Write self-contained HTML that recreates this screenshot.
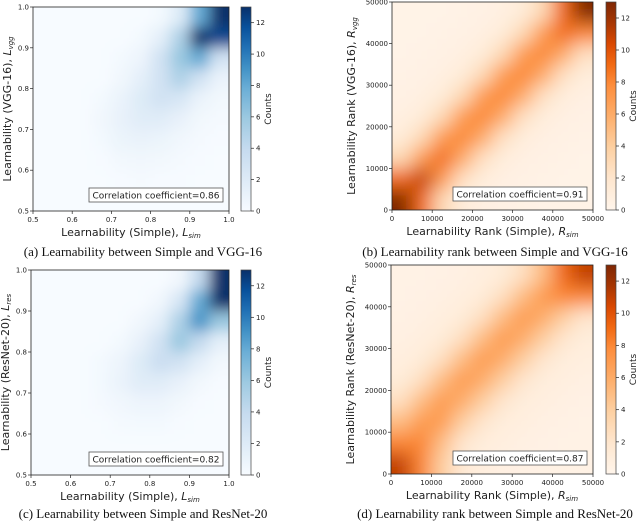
<!DOCTYPE html>
<html><head><meta charset="utf-8"><style>
html,body{margin:0;padding:0;background:#fff;}
svg{display:block;}
.t{font-family:"DejaVu Sans","Liberation Sans",sans-serif;}
.cap{font-family:"Liberation Serif",serif;font-size:13px;}
</style></head><body>
<svg id="fig" width="640" height="524" viewBox="0 0 640 524">
<defs>
<linearGradient id="gBlue" x1="0" y1="1" x2="0" y2="0">
<stop offset="0" stop-color="#f7fbff"/><stop offset="0.15" stop-color="#deebf7"/><stop offset="0.3" stop-color="#c6dbef"/><stop offset="0.45" stop-color="#9ecae1"/><stop offset="0.6" stop-color="#6baed6"/><stop offset="0.7" stop-color="#4292c6"/><stop offset="0.8" stop-color="#2171b5"/><stop offset="0.9" stop-color="#08519c"/><stop offset="1" stop-color="#08306b"/></linearGradient>
<linearGradient id="gOrange" x1="0" y1="1" x2="0" y2="0">
<stop offset="0" stop-color="#fff5eb"/><stop offset="0.15" stop-color="#fee6ce"/><stop offset="0.3" stop-color="#fdd0a2"/><stop offset="0.45" stop-color="#fdae6b"/><stop offset="0.6" stop-color="#fd8d3c"/><stop offset="0.7" stop-color="#f16913"/><stop offset="0.8" stop-color="#d94801"/><stop offset="0.9" stop-color="#a63603"/><stop offset="1" stop-color="#7f2704"/></linearGradient>
<filter id="blurS" x="-5%" y="-5%" width="110%" height="110%"><feGaussianBlur stdDeviation="7"/></filter>
<filter id="blurL" x="-5%" y="-5%" width="110%" height="110%"><feGaussianBlur stdDeviation="9"/></filter>
</defs>
</svg>
<script>
// counts grids, row 0 = top of y axis, col 0 = left of x axis
const gridA = [
[0,0,0,0,0,0,0.3,2,8,13],
[0,0,0,0,0,0.3,1.5,5,13,12],
[0,0,0,0,0.3,0.8,3,6,8,3],
[0,0,0,0,0.5,1.5,3,5,3,1],
[0,0,0,0.3,1,2,3,2.5,1,0.4],
[0,0,0,0.5,1.2,1.8,1.8,1.2,0.4,0.2],
[0,0,0,0.3,0.9,1.1,0.9,0.5,0.2,0.1],
[0,0,0,0.1,0.4,0.5,0.4,0.2,0.1,0],
[0,0,0,0,0.1,0.2,0.1,0.1,0,0],
[0,0,0,0,0,0,0,0,0,0]];
const gridB = [
[.3,.3,.3,.4,.5,.7,1.2,3,9,13],
[.3,.3,.4,.5,.7,1.2,3,7,9,8],
[.3,.4,.5,.7,1.2,3,7,8,6,2.5],
[.4,.5,.7,1.2,3,7,8,6,2.5,1],
[.5,.7,1.2,3,7,8,6,2.5,1,.6],
[.7,1.2,3,7,8,6,2.5,1,.6,.5],
[1.2,3,7,8,6,2.5,1,.6,.5,.4],
[3,7,9,6,2.5,1,.6,.5,.4,.3],
[9,11,7,2.5,1,.6,.5,.4,.3,.3],
[13,9,3,1,.6,.5,.4,.3,.3,.3]];
const gridC = [
[0,0,0,0,0,0,0,0.5,4,13],
[0,0,0,0,0,0,0.5,2.5,8,13],
[0,0,0,0,0,0.5,1.5,5,9,6],
[0,0,0,0,0.3,1.2,3,6,4,1.5],
[0,0,0,0.3,0.8,2,3.5,3,1.5,0.4],
[0,0,0,0.3,1,1.8,1.8,1.2,0.4,0.1],
[0,0,0,0.2,0.5,0.8,0.8,0.4,0.1,0],
[0,0,0,0,0.2,0.3,0.3,0.1,0,0],
[0,0,0,0,0,0,0,0,0,0],
[0,0,0,0,0,0,0,0,0,0]];
const gridD = [
[.4,.4,.5,.6,.8,1.2,2.5,5,9,11],
[.4,.5,.6,.8,1.2,2.5,5,7,8,8],
[.5,.6,.8,1.2,2.5,5,7,6,4,2],
[.6,.8,1.2,2.5,5,7,6,4,2,1],
[.8,1.2,2.5,5,7,6,4,2,1,.8],
[1.2,2.5,5,7,6,4,2,1,.8,.6],
[2.5,5,7,6,4,2,1,.8,.6,.5],
[5,7,7,4,2,1,.8,.6,.5,.4],
[8,8,5,2,1,.8,.6,.5,.4,.4],
[11,8,4,1.5,.8,.6,.5,.4,.4,.4]];
const learnTicks = ["0.5","0.6","0.7","0.8","0.9","1.0"];
const rankTicks = ["0","10000","20000","30000","40000","50000"];
const cbTicks = [0,2,4,6,8,10,12];
const cbMax = 13;
const corrs = ["0.86","0.91","0.82","0.87"];

const NS="http://www.w3.org/2000/svg";
const svg=document.getElementById('fig');
function mk(tag,attrs,parent){const e=document.createElementNS(NS,tag);for(const k in attrs)e.setAttribute(k,attrs[k]);(parent||svg).appendChild(e);return e;}
const blues=["#f7fbff","#deebf7","#c6dbef","#9ecae1","#6baed6","#4292c6","#2171b5","#08519c","#08306b"];
const oranges=["#fff5eb","#fee6ce","#fdd0a2","#fdae6b","#fd8d3c","#f16913","#d94801","#a63603","#7f2704"];
const stops=[0,0.15,0.3,0.45,0.6,0.7,0.8,0.9,1];
function hex(c){return [1,3,5].map(i=>parseInt(c.substr(i,2),16));}
function cmap(pal,v){let t=Math.max(0,Math.min(1,v/cbMax));for(let i=1;i<stops.length;i++){if(t<=stops[i]){const f=(t-stops[i-1])/(stops[i]-stops[i-1]);const a=hex(pal[i-1]),b=hex(pal[i]);return 'rgb('+a.map((x,j)=>Math.round(x+(b[j]-x)*f)).join(',')+')';}}return pal[pal.length-1];}

const panels=[
{grid:gridA,pal:blues,grad:'gBlue',blur:'blurS',x0:33,x1:229,y0:7,y1:211,ticks:learnTicks,cb:241,xl:'Learnability (Simple), ',xs:'L',xsub:'sim',yl:'Learnability (VGG-16), ',ysub:'vgg',cap:'(a) Learnability between Simple and VGG-16',capY:256,name:'panel-a'},
{grid:gridB,pal:oranges,grad:'gOrange',blur:'blurL',x0:392,x1:593,y0:2,y1:210,ticks:rankTicks,cb:606,xl:'Learnability Rank (Simple), ',xs:'R',xsub:'sim',yl:'Learnability Rank (VGG-16), ',ysub:'vgg',cap:'(b) Learnability rank between Simple and VGG-16',capY:256,name:'panel-b'},
{grid:gridC,pal:blues,grad:'gBlue',blur:'blurS',x0:31,x1:229,y0:270,y1:475,ticks:learnTicks,cb:241,xl:'Learnability (Simple), ',xs:'L',xsub:'sim',yl:'Learnability (ResNet-20), ',ysub:'res',cap:'(c) Learnability between Simple and ResNet-20',capY:518,name:'panel-c'},
{grid:gridD,pal:oranges,grad:'gOrange',blur:'blurL',x0:391,x1:593,y0:265,y1:474,ticks:rankTicks,cb:606,xl:'Learnability Rank (Simple), ',xs:'R',xsub:'sim',yl:'Learnability Rank (ResNet-20), ',ysub:'res',cap:'(d) Learnability rank between Simple and ResNet-20',capY:518,name:'panel-d'}];

panels.forEach((p,pi)=>{
  const g=mk('g',{});
  
  
  const W=p.x1-p.x0,H=p.y1-p.y0,n=p.grid.length,m=p.grid[0].length;
  const cid='clip'+pi;
  const cp=mk('clipPath',{id:cid},g);mk('rect',{x:p.x0,y:p.y0,width:W,height:H},cp);
  const bg=mk('rect',{x:p.x0,y:p.y0,width:W,height:H,fill:p.pal[0]},g);
  
  
  const cg=mk('g',{'clip-path':'url(#'+cid+')'},g);
  const hg=mk('g',{filter:'url(#'+p.blur+')'},cg);
  
  
  const xs=c=>p.x0+c*W/m, ys=r=>p.y0+r*H/n;
  p.grid.forEach((row,r)=>row.forEach((v,c)=>{
    let x=xs(c),y=ys(r),w=W/m,h=H/n;
    if(c===0){x-=20;w+=20;} if(c===m-1){w+=20;}
    if(r===0){y-=20;h+=20;} if(r===n-1){h+=20;}
    const rc=mk('rect',{x:x,y:y,width:w+0.5,height:h+0.5,fill:cmap(p.pal,v)},hg);
    
    
  }));
  mk('rect',{x:p.x0,y:p.y0,width:W,height:H,fill:'none',stroke:'#222','stroke-width':0.8},g);
  p.ticks.forEach((t,i)=>{
    const x=p.x0+i*W/(p.ticks.length-1), y=p.y1-i*H/(p.ticks.length-1);
    mk('line',{x1:x,y1:p.y1,x2:x,y2:p.y1+3,stroke:'#222','stroke-width':0.7},g);
    const tx=mk('text',{x:x,y:p.y1+11,'font-size':7,'text-anchor':'middle',fill:'#222',class:'t'},g);tx.textContent=t;
    
    
    mk('line',{x1:p.x0-3,y1:y,x2:p.x0,y2:y,stroke:'#222','stroke-width':0.7},g);
    const ty=mk('text',{x:p.x0-4,y:y+2.5,'font-size':7,'text-anchor':'end',fill:'#222',class:'t'},g);ty.textContent=t;
    
    
  });
  const xl=mk('text',{x:(p.x0+p.x1)/2,y:p.y1+25,'font-size':11,'text-anchor':'middle',fill:'#222',class:'t'},g);
  xl.innerHTML=p.xl+'<tspan font-style="italic">'+p.xs+'</tspan><tspan font-size="7" font-style="italic" dy="2">'+p.xsub+'</tspan>';
  
  
  const yx=p.x0-(pi%2?37:22), yc=(p.y0+p.y1)/2;
  const yl=mk('text',{x:yx,y:yc,'font-size':11,'text-anchor':'middle',fill:'#222',class:'t',transform:'rotate(-90 '+yx+' '+yc+')'},g);
  yl.innerHTML=p.yl+'<tspan font-style="italic">'+p.xs+'</tspan><tspan font-size="7" font-style="italic" dy="2">'+p.ysub+'</tspan>';
  
  
  const bw=134,bx=p.x1-6-bw,by=p.y1-23;
  const box=mk('rect',{x:bx,y:by,width:bw,height:14,fill:'#fff',stroke:'#555','stroke-width':0.8},g);
  
  
  const ct=mk('text',{x:bx+bw/2,y:by+10.5,'font-size':9,'text-anchor':'middle',fill:'#222',class:'t'},g);
  ct.textContent='Correlation coefficient='+corrs[pi];
  
  
  const cb=mk('rect',{x:p.cb,y:p.y0,width:10,height:H,fill:'url(#'+p.grad+')',stroke:'#444','stroke-width':0.7},g);
  
  
  cbTicks.forEach(v=>{
    const y=p.y1-v/cbMax*H;
    mk('line',{x1:p.cb+10,y1:y,x2:p.cb+13,y2:y,stroke:'#222','stroke-width':0.7},g);
    const t=mk('text',{x:p.cb+15,y:y+2.5,'font-size':7,fill:'#222',class:'t'},g);t.textContent=v;
    
    
  });
  const lx=p.cb+30, ly=yc;
  const cl=mk('text',{x:lx,y:ly,'font-size':9,'text-anchor':'middle',fill:'#222',class:'t',transform:'rotate(-90 '+lx+' '+ly+')'},g);
  cl.textContent='Counts';
  
  
  const cx=pi%2?495:143;
  const cap=mk('text',{x:cx,y:p.capY,'text-anchor':'middle',fill:'#111',class:'cap'},g);
  cap.textContent=p.cap;
  
  
});
</script>
</body></html>
